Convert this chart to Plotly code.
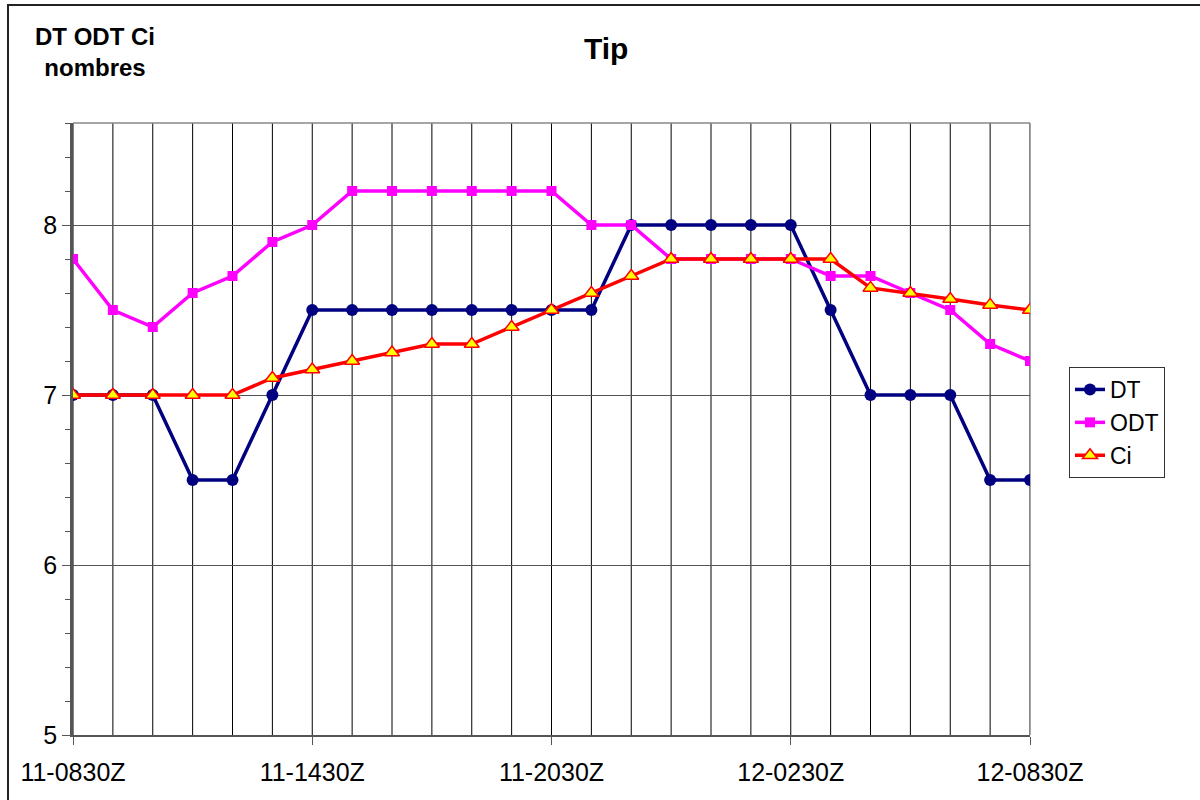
import plotly.graph_objects as go

categories = ["11-0830Z", "11-0930Z", "11-1030Z", "11-1130Z", "11-1230Z", "11-1330Z",
              "11-1430Z", "11-1530Z", "11-1630Z", "11-1730Z", "11-1830Z", "11-1930Z",
              "11-2030Z", "11-2130Z", "11-2230Z", "11-2330Z", "12-0030Z", "12-0130Z",
              "12-0230Z", "12-0330Z", "12-0430Z", "12-0530Z", "12-0630Z", "12-0730Z",
              "12-0830Z"]
dt = [7, 7, 7, 6.5, 6.5, 7, 7.5, 7.5, 7.5, 7.5, 7.5, 7.5, 7.5, 7.5, 8, 8, 8, 8, 8,
      7.5, 7, 7, 7, 6.5, 6.5]
odt = [7.8, 7.5, 7.4, 7.6, 7.7, 7.9, 8.0, 8.2, 8.2, 8.2, 8.2, 8.2, 8.2, 8.0, 8.0,
       7.8, 7.8, 7.8, 7.8, 7.7, 7.7, 7.6, 7.5, 7.3, 7.2]
ci = [7, 7, 7, 7, 7, 7.1, 7.15, 7.2, 7.25, 7.3, 7.3, 7.4, 7.5, 7.6, 7.7, 7.8, 7.8,
      7.8, 7.8, 7.8, 7.63, 7.6, 7.565, 7.53, 7.5]
label_ticks = ["11-0830Z", "11-1430Z", "11-2030Z", "12-0230Z", "12-0830Z"]
y_ticks = [5, 6, 7, 8]

FONT = "Liberation Sans, Arial, sans-serif"

fig = go.Figure()
fig.add_trace(go.Scatter(x=categories, y=dt, name="DT", mode="lines+markers",
                         line=dict(color="#000080", width=3.5),
                         marker=dict(symbol="circle", size=12, color="#000080")))
fig.add_trace(go.Scatter(x=categories, y=odt, name="ODT", mode="lines+markers",
                         line=dict(color="#FF00FF", width=3.5),
                         marker=dict(symbol="square", size=10, color="#FF00FF")))
fig.add_trace(go.Scatter(x=categories, y=ci, name="Ci", mode="lines+markers",
                         line=dict(color="#FF0000", width=3.5),
                         marker=dict(symbol="triangle-up", size=13, color="#FFFF00",
                                     line=dict(color="#FF0000", width=1.5))))

shapes = []
for c in categories:
    shapes.append(dict(type="line", xref="x", yref="paper", x0=c, x1=c, y0=0, y1=1,
                       line=dict(color="#000000", width=1), layer="below"))
# outer chart frame (left and top edges visible)
shapes.append(dict(type="rect", xref="paper", yref="paper",
                   x0=(8 - 73) / 957, x1=1.4, y0=-0.3, y1=(735 - 5) / 612,
                   line=dict(color="#222222", width=2), layer="below"))
# top and right plot-area borders in gray
shapes.append(dict(type="line", xref="paper", yref="paper", x0=0, x1=1, y0=1, y1=1,
                   line=dict(color="#888888", width=1.5), layer="below"))
shapes.append(dict(type="line", xref="paper", yref="paper", x0=1, x1=1, y0=0, y1=1,
                   line=dict(color="#888888", width=1.5), layer="below"))

fig.update_layout(
    width=1200, height=800,
    margin=dict(l=73, r=170, t=123, b=65, autoexpand=False),
    paper_bgcolor="white", plot_bgcolor="white",
    font=dict(family=FONT, size=25, color="black"),
    showlegend=True,
    legend=dict(xref="container", yref="container", x=1069 / 1200, y=1 - 367 / 800,
                xanchor="left", yanchor="top",
                bordercolor="#333333", borderwidth=1, bgcolor="white",
                font=dict(size=23), itemwidth=30, tracegroupgap=0),
    shapes=shapes,
    annotations=[
        dict(text="<b>Tip</b>", xref="paper", yref="paper", x=(606 - 73) / 957,
             y=(735 - 48) / 612, showarrow=False, font=dict(size=30),
             xanchor="center", yanchor="middle"),
        dict(text="<b>DT ODT Ci</b><br><b>nombres</b>", xref="paper", yref="paper",
             x=(95 - 73) / 957, y=(735 - 52) / 612, showarrow=False,
             font=dict(size=24), xanchor="center", yanchor="middle", align="center"),
    ],
)
fig.update_xaxes(type="category", categoryorder="array", categoryarray=categories,
                 tickmode="array", tickvals=label_ticks, ticktext=label_ticks,
                 showgrid=False, ticks="outside", ticklen=8, tickcolor="#555555",
                 showline=True, linecolor="#555555", linewidth=1.5, mirror=False,
                 range=[0, len(categories) - 1], tickfont=dict(size=25),
                 ticklabelstandoff=6,
                 zeroline=False, automargin=False)
fig.update_yaxes(range=[5, 8.6], tickmode="array", tickvals=y_ticks,
                 showgrid=True, gridcolor="#555555", gridwidth=1.2,
                 ticks="outside", ticklen=8, tickcolor="#555555",
                 showline=True, linecolor="#555555", linewidth=2.5,
                 minor=dict(dtick=0.2, ticks="outside", ticklen=5,
                            tickcolor="#555555", showgrid=False),
                 tickfont=dict(size=25), zeroline=False, automargin=False)

fig.write_html("out.html", config={"displayModeBar": False},
               post_script="document.body.style.margin='0';document.body.style.overflow='hidden';")
